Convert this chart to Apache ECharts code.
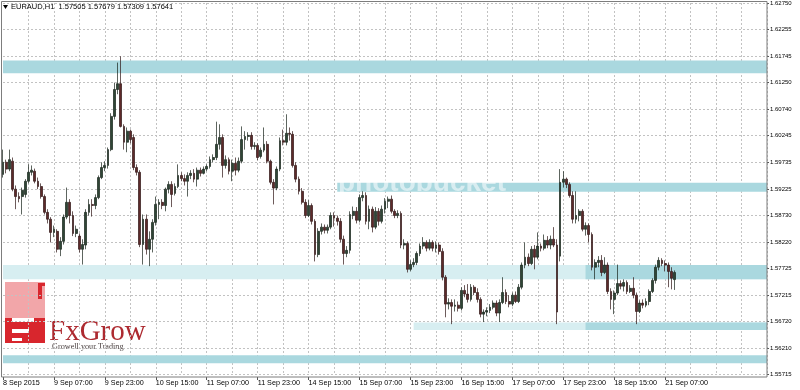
<!DOCTYPE html>
<html><head><meta charset="utf-8">
<script src="https://cdn.jsdelivr.net/npm/echarts@6/dist/echarts.min.js"></script>
<style>html,body{margin:0;padding:0;background:#fff}#c{width:800px;height:390px}</style>
</head><body><div id="c"></div>
<script>
const symbolName = 'EURAUD,H1';
const lastOHLC = ['1.57505', '1.57679', '1.57309', '1.57641'];
const lastPrice = 1.57641;
const xTickLabels = ['8 Sep 2015','9 Sep 07:00','9 Sep 23:00','10 Sep 15:00','11 Sep 07:00','11 Sep 23:00','14 Sep 15:00','15 Sep 07:00','15 Sep 23:00','16 Sep 15:00','17 Sep 07:00','17 Sep 23:00','18 Sep 15:00','21 Sep 07:00'];
const yTickLabels = ['1.55715','1.56210','1.56720','1.57215','1.57725','1.58220','1.58730','1.59225','1.59735','1.60245','1.60740','1.61250','1.61745','1.62255','1.62750'];

const opens = [1.5950,1.5973,1.5960,1.5975,1.5922,1.5908,1.5908,1.5912,1.5937,1.5954,
1.5956,1.5937,1.5927,1.5908,1.5878,1.5865,1.5840,1.5842,1.5808,1.5823,
1.5869,1.5897,1.5872,1.5838,1.5833,1.5808,1.5816,1.5878,1.5893,1.5891,
1.5906,1.5944,1.5963,1.5967,1.5997,1.6060,1.6111,1.6122,1.6041,1.6011,
1.6032,1.6020,1.5963,1.5954,1.5817,1.5865,1.5808,1.5827,1.5859,1.5893,
1.5897,1.5891,1.5922,1.5931,1.5914,1.5927,1.5948,1.5942,1.5937,1.5948,
1.5952,1.5941,1.5958,1.5952,1.5960,1.5965,1.5978,1.5982,1.6007,1.6020,
1.5967,1.5978,1.5956,1.5971,1.5958,1.5975,1.6016,1.6022,1.6024,1.6003,
1.6005,1.5984,1.5996,1.6007,1.5975,1.5935,1.5924,1.5960,1.6014,1.6011,
1.6028,1.6026,1.5967,1.5941,1.5918,1.5897,1.5872,1.5891,1.5861,1.5798,
1.5842,1.5850,1.5844,1.5850,1.5872,1.5867,1.5861,1.5827,1.5800,1.5806,
1.5872,1.5880,1.5863,1.5906,1.5910,1.5861,1.5884,1.5850,1.5880,1.5861,
1.5884,1.5899,1.5903,1.5880,1.5872,1.5876,1.5816,1.5819,1.5770,1.5779,
1.5783,1.5800,1.5814,1.5821,1.5810,1.5821,1.5810,1.5816,1.5804,1.5755,
1.5704,1.5707,1.5700,1.5702,1.5696,1.5730,1.5723,1.5713,1.5736,1.5726,
1.5713,1.5685,1.5689,1.5692,1.5698,1.5706,1.5687,1.5707,1.5726,1.5709,
1.5704,1.5721,1.5709,1.5736,1.5778,1.5793,1.5781,1.5808,1.5793,1.5814,
1.5810,1.5825,1.5816,1.5827,1.5816,1.5795,1.5935,1.5941,1.5931,1.5910,
1.5865,1.5872,1.5880,1.5846,1.5853,1.5836,1.5774,1.5783,1.5787,1.5764,
1.5778,1.5728,1.5713,1.5725,1.5743,1.5738,1.5745,1.5728,1.5734,1.5721,
1.5690,1.5706,1.5702,1.5709,1.5728,1.5749,1.5774,1.5787,1.5781,1.5778,
1.5766,1.57505];

const closes = [1.5973,1.5960,1.5978,1.5922,1.5908,1.5904,1.5920,1.5937,1.5954,1.5958,
1.5937,1.5927,1.5908,1.5878,1.5865,1.5840,1.5846,1.5808,1.5823,1.5869,
1.5897,1.5872,1.5838,1.5846,1.5808,1.5817,1.5878,1.5893,1.5891,1.5906,
1.5944,1.5963,1.5967,1.5997,1.6060,1.6111,1.6122,1.6041,1.6011,1.6032,
1.6016,1.5963,1.5954,1.5817,1.5865,1.5808,1.5827,1.5859,1.5893,1.5897,
1.5891,1.5922,1.5931,1.5912,1.5927,1.5948,1.5942,1.5937,1.5948,1.5952,
1.5941,1.5958,1.5952,1.5960,1.5965,1.5978,1.5982,1.6007,1.6020,1.5967,
1.5978,1.5956,1.5971,1.5958,1.5975,1.6016,1.6022,1.6024,1.6003,1.6005,
1.5982,1.5996,1.6007,1.5975,1.5935,1.5924,1.5960,1.6014,1.6011,1.6028,
1.6026,1.5967,1.5941,1.5918,1.5897,1.5872,1.5891,1.5861,1.5798,1.5842,
1.5850,1.5844,1.5850,1.5872,1.5867,1.5861,1.5827,1.5800,1.5806,1.5874,
1.5880,1.5863,1.5906,1.5910,1.5861,1.5884,1.5850,1.5880,1.5861,1.5884,
1.5899,1.5903,1.5880,1.5872,1.5876,1.5816,1.5819,1.5770,1.5779,1.5783,
1.5800,1.5814,1.5821,1.5810,1.5821,1.5810,1.5816,1.5804,1.5755,1.5704,
1.5707,1.5700,1.5702,1.5696,1.5730,1.5723,1.5713,1.5736,1.5726,1.5713,
1.5685,1.5689,1.5692,1.5698,1.5706,1.5687,1.5707,1.5726,1.5709,1.5704,
1.5721,1.5709,1.5736,1.5778,1.5793,1.5781,1.5808,1.5793,1.5814,1.5810,
1.5825,1.5816,1.5827,1.5816,1.5689,1.5935,1.5941,1.5931,1.5910,1.5865,
1.5872,1.5880,1.5846,1.5853,1.5836,1.5774,1.5783,1.5787,1.5764,1.5778,
1.5728,1.5713,1.5725,1.5743,1.5738,1.5745,1.5728,1.5734,1.5721,1.5690,
1.5706,1.5702,1.5709,1.5728,1.5749,1.5774,1.5787,1.5781,1.5778,1.5766,
1.5753,1.57641];

const lows = [1.5944,1.5952,1.5956,1.5918,1.5884,1.5897,1.5874,1.5906,1.5933,1.5948,
1.5933,1.5922,1.5904,1.5874,1.5857,1.5821,1.5831,1.5802,1.5795,1.5817,
1.5865,1.5857,1.5833,1.5831,1.5802,1.5779,1.5808,1.5872,1.5870,1.5884,
1.5903,1.5941,1.5956,1.5961,1.5994,1.6054,1.6102,1.6039,1.5997,1.5992,
1.6009,1.5958,1.5948,1.5812,1.5779,1.5798,1.5776,1.5802,1.5853,1.5865,
1.5884,1.5880,1.5914,1.5888,1.5910,1.5924,1.5937,1.5929,1.5908,1.5941,
1.5935,1.5927,1.5946,1.5950,1.5956,1.5961,1.5973,1.5977,1.5997,1.5944,
1.5961,1.5950,1.5937,1.5948,1.5954,1.5971,1.5997,1.6014,1.5997,1.5997,
1.5977,1.5980,1.5992,1.5971,1.5931,1.5893,1.5920,1.5956,1.6005,1.6005,
1.6014,1.5963,1.5935,1.5912,1.5893,1.5867,1.5869,1.5855,1.5785,1.5793,
1.5836,1.5838,1.5838,1.5846,1.5851,1.5853,1.5821,1.5779,1.5793,1.5800,
1.5865,1.5857,1.5859,1.5899,1.5855,1.5846,1.5840,1.5846,1.5853,1.5857,
1.5876,1.5886,1.5876,1.5867,1.5867,1.5810,1.5808,1.5764,1.5766,1.5774,
1.5778,1.5795,1.5808,1.5804,1.5806,1.5804,1.5802,1.5798,1.5749,1.5679,
1.5694,1.5666,1.5690,1.5690,1.5692,1.5717,1.5707,1.5709,1.5721,1.5707,
1.5679,1.5670,1.5681,1.5687,1.5694,1.5681,1.5670,1.5704,1.5704,1.5698,
1.5700,1.5706,1.5706,1.5732,1.5772,1.5776,1.5778,1.5770,1.5789,1.5804,
1.5806,1.5810,1.5808,1.5812,1.5666,1.5785,1.5925,1.5924,1.5906,1.5857,
1.5857,1.5861,1.5842,1.5834,1.5821,1.5768,1.5751,1.5774,1.5757,1.5761,
1.5723,1.5694,1.5685,1.5721,1.5732,1.5728,1.5723,1.5725,1.5715,1.5666,
1.5687,1.5696,1.5698,1.5702,1.5725,1.5743,1.5768,1.5776,1.5766,1.5736,
1.5732,1.57309];

const highs = [1.5997,1.5978,1.5997,1.5982,1.5929,1.5916,1.5925,1.5941,1.5969,1.5967,
1.5961,1.5944,1.5933,1.5912,1.5884,1.5869,1.5853,1.5846,1.5831,1.5874,
1.5925,1.5903,1.5880,1.5853,1.5838,1.5827,1.5884,1.5903,1.5903,1.5912,
1.5948,1.5973,1.5975,1.6001,1.6066,1.6124,1.6162,1.6174,1.6045,1.6039,
1.6035,1.6026,1.5969,1.5958,1.5874,1.5874,1.5842,1.5865,1.5908,1.5903,
1.5903,1.5925,1.5937,1.5937,1.5933,1.5969,1.5954,1.5950,1.5954,1.5958,
1.5960,1.5963,1.5963,1.5965,1.5969,1.5984,1.5988,1.6050,1.6045,1.6026,
1.5986,1.5982,1.5978,1.5982,1.5982,1.6041,1.6032,1.6030,1.6030,1.6011,
1.6009,1.6001,1.6039,1.6013,1.5978,1.5941,1.5965,1.6020,1.6035,1.6064,
1.6039,1.6032,1.5973,1.5946,1.5924,1.5903,1.5901,1.5895,1.5865,1.5848,
1.5857,1.5855,1.5855,1.5878,1.5878,1.5872,1.5867,1.5834,1.5814,1.5880,
1.5889,1.5888,1.5912,1.5918,1.5916,1.5891,1.5889,1.5888,1.5886,1.5891,
1.5905,1.5908,1.5910,1.5884,1.5882,1.5880,1.5827,1.5823,1.5787,1.5791,
1.5804,1.5819,1.5831,1.5825,1.5827,1.5825,1.5823,1.5821,1.5810,1.5759,
1.5715,1.5713,1.5713,1.5709,1.5736,1.5740,1.5742,1.5742,1.5740,1.5734,
1.5717,1.5694,1.5698,1.5704,1.5711,1.5711,1.5713,1.5755,1.5732,1.5721,
1.5726,1.5728,1.5742,1.5783,1.5821,1.5800,1.5814,1.5816,1.5840,1.5819,
1.5836,1.5833,1.5834,1.5850,1.5827,1.5960,1.5956,1.5944,1.5935,1.5918,
1.5918,1.5884,1.5884,1.5859,1.5857,1.5840,1.5789,1.5795,1.5797,1.5793,
1.5783,1.5734,1.5730,1.5779,1.5749,1.5751,1.5749,1.5740,1.5755,1.5726,
1.5711,1.5713,1.5715,1.5732,1.5753,1.5779,1.5793,1.5791,1.5787,1.5783,
1.5774,1.57679];

// support / resistance zones: [low price, high price, first bar index]
const zoneBands = [
  [1.6142, 1.6166, 0],
  [1.5917, 1.5934, 105],
  [1.5751, 1.5778, 0],
  [1.5751, 1.5778, 183],
  [1.5655, 1.5669, 129],
  [1.5655, 1.5669, 183],
  [1.5592, 1.5607, 0]
];
const zoneShade = ['dark','dark','light','dark','light','dark','dark'];

// hourly categories from 8 Sep 2015 15:00, skipping weekends, plus right-side shift space
const SLOTS = 241;
const categories = [];
(function(){
  let t = Date.UTC(2015, 8, 8, 15);
  const p = n => (n < 10 ? '0' : '') + n;
  while (categories.length < SLOTS) {
    const d = new Date(t);
    const wd = d.getUTCDay();
    if (wd !== 0 && wd !== 6) {
      categories.push(d.getUTCFullYear() + '.' + p(d.getUTCMonth() + 1) + '.' + p(d.getUTCDate()) + ' ' + p(d.getUTCHours()) + ':00');
    }
    t += 3600000;
  }
})();
const catIndex = new Map(categories.map((c, i) => [c, i]));

const candles = opens.map((o, i) => [o, closes[i], lows[i], highs[i]]);
const yTickValues = yTickLabels.map(Number);

const FONT = 'Liberation Sans';
const shadeColor = { dark: '#aad8df', light: '#d7eef1' };
const lastCat = categories[SLOTS - 1];

const markAreaData = zoneBands.map((z, k) => [
  { xAxis: categories[z[2]], yAxis: z[0], itemStyle: { color: shadeColor[zoneShade[k]] } },
  { xAxis: lastCat, yAxis: z[1] }
]);

const chart = echarts.init(document.getElementById('c'), null, { renderer: 'canvas' });
chart.setOption({
  animation: false,
  backgroundColor: '#fff',
  grid: { left: 2, right: 33, top: 3, bottom: 16 },
  xAxis: {
    type: 'category',
    data: categories,
    boundaryGap: false,
    offset: 3,
    axisLine: { show: false },
    axisTick: {
      show: true, length: 3,
      interval: (i) => i % 16 === 0 && i / 16 < xTickLabels.length,
      lineStyle: { color: '#555' }
    },
    axisLabel: {
      interval: (i) => i % 16 === 0 && i / 16 < xTickLabels.length,
      formatter: (v) => { const i = catIndex.get(v); return xTickLabels[i / 16] || ''; },
      align: 'left', fontSize: 7.2, fontFamily: FONT, color: '#000', margin: 3
    },
    splitLine: {
      show: true,
      interval: (i) => i % 8 === 0 && i > 0,
      lineStyle: { color: '#c2c2c2', type: [2, 2], width: 1 }
    }
  },
  yAxis: {
    type: 'value',
    position: 'right',
    min: 1.55715, max: 1.62750,
    axisLine: { show: false },
    axisTick: { show: true, length: 2, customValues: yTickValues, lineStyle: { color: '#555' } },
    axisLabel: {
      customValues: yTickValues,
      formatter: (v) => v.toFixed(5),
      fontSize: 6, fontFamily: FONT, color: '#000', margin: 3
    },
    splitLine: { show: true, lineStyle: { color: '#c2c2c2', type: [2, 2], width: 1 } }
  },
  series: [{
    type: 'candlestick',
    data: candles,
    barWidth: 2.3,
    z: 3,
    itemStyle: {
      color: '#2f4636', color0: '#5e2a2a',
      borderColor: '#17221a', borderColor0: '#2e1414', borderWidth: 0.7
    },
    markArea: { silent: true, data: markAreaData },
    markLine: {
      silent: true,
      symbol: ['none', 'none'],
      lineStyle: { opacity: 0 },
      label: {
        show: true, position: 'end', distance: 1,
        formatter: () => lastPrice.toFixed(5),
        backgroundColor: '#000', color: '#fff',
        fontSize: 6, fontFamily: FONT, padding: [2, 4, 2, 2]
      },
      data: [{ yAxis: lastPrice }]
    }
  }],
  graphic: [
    { type: 'text', z: 4, silent: true, x: 338, y: 169,
      style: { text: 'photobucket', font: 'bold 28px "Liberation Sans"', fill: 'rgba(255,255,255,0.55)' } },
    { type: 'rect', z: 20, silent: true, shape: { x: 1.5, y: 1.5, width: 765.5, height: 375.5 },
      style: { fill: 'none', stroke: '#7d7d7d', lineWidth: 1 } },
    { type: 'polygon', z: 20, silent: true, shape: { points: [[3, 5], [8, 5], [5.5, 9]] }, style: { fill: '#000' } },
    { type: 'text', z: 20, silent: true, x: 11, y: 3,
      style: { text: symbolName + '  ' + lastOHLC.join(' '), font: '7.5px "Liberation Sans"', fill: '#000' } },
    { type: 'group', z: 20, silent: true, children: [
      { type: 'rect', shape: { x: 2, y: 281, width: 161, height: 73 }, style: { fill: '#fff' } },
      { type: 'rect', shape: { x: 5, y: 282, width: 40, height: 36 }, style: { fill: '#f2a6a9' } },
      { type: 'rect', shape: { x: 5, y: 318, width: 40, height: 25 }, style: { fill: '#d8262d' } },
      { type: 'rect', shape: { x: 38, y: 283, width: 4, height: 16 }, style: { fill: '#d8262d' } },
      { type: 'rect', shape: { x: 38, y: 283, width: 7, height: 3 }, style: { fill: '#d8262d' } },
      { type: 'rect', shape: { x: 12, y: 318, width: 22, height: 4 }, style: { fill: '#fff' } },
      { type: 'rect', shape: { x: 12, y: 329, width: 17, height: 4 }, style: { fill: '#fff' } },
      { type: 'rect', shape: { x: 12, y: 338, width: 10, height: 3 }, style: { fill: '#fff' } },
      { type: 'text', x: 49, y: 318, style: { text: 'FxGrow', font: '29px "Liberation Serif"', fill: '#ad2a30' } },
      { type: 'text', x: 52, y: 343, style: { text: 'Growell your Trading', font: '8.2px "Liberation Serif"', fill: '#4a4040' } }
    ] }
  ]
});
</script>
</body></html>
